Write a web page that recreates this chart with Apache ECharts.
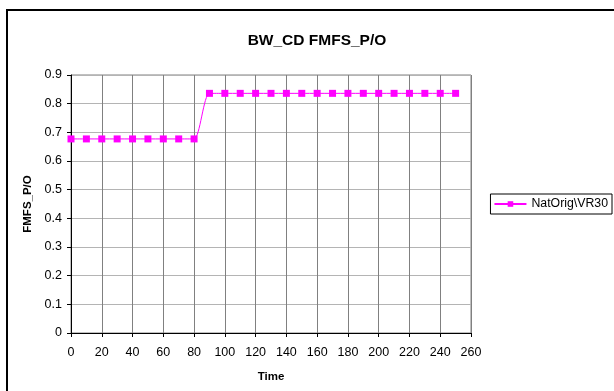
<!DOCTYPE html>
<html><head><meta charset="utf-8">
<script src="https://cdn.jsdelivr.net/npm/echarts@6/dist/echarts.min.js"></script>
<style>html,body{margin:0;padding:0;background:#fff}#c{width:614px;height:391px}</style>
</head><body><div id="c"></div>
<script>
const times = [0,10,20,30,40,50,60,70,80,90,100,110,120,130,140,150,160,170,180,190,200,210,220,230,240,250];
const values = [0.677,0.677,0.677,0.677,0.677,0.677,0.677,0.677,0.677,0.836,0.836,0.836,0.836,0.836,0.836,0.836,0.836,0.836,0.836,0.836,0.836,0.836,0.836,0.836,0.836,0.836];
const seriesName = 'NatOrig\\VR30';
const titleText = 'BW_CD FMFS_P/O';

const chart = echarts.init(document.getElementById('c'), null, {renderer:'canvas'});
const font = 'Liberation Sans, Arial, sans-serif';
chart.setOption({
  animation:false,
  backgroundColor:'#fff',
  title:{text:titleText,left:312,top:28,textAlign:'center',textStyle:{fontFamily:font,fontSize:15.5,fontWeight:'bold',color:'#000'}},
  grid:{left:71,right:143,top:75,bottom:58,show:true,borderColor:'#808080',borderWidth:1},
  legend:{data:[seriesName],right:2,top:194,orient:'vertical',borderColor:'#000',borderWidth:1,padding:[4,4,4,3],itemWidth:32,itemHeight:7,itemGap:0,
    textStyle:{fontFamily:font,fontSize:12.3,color:'#000'}},
  graphic:[{type:'rect',shape:{x:7,y:10,width:640,height:420},style:{fill:'none',stroke:'#000',lineWidth:2},silent:true,z:-1}],
  xAxis:{type:'value',min:0,max:260,interval:20,name:'Time',nameLocation:'middle',nameGap:38,
    nameTextStyle:{fontFamily:font,fontSize:11.5,fontWeight:'bold',color:'#000'},
    axisLine:{lineStyle:{color:'#000',width:1}},axisTick:{show:true,inside:false,length:4,lineStyle:{color:'#000'}},
    axisLabel:{fontFamily:font,fontSize:12.5,color:'#000',margin:13},
    splitLine:{show:true,lineStyle:{color:'#808080',width:1}}},
  yAxis:{type:'value',min:0,max:0.9,interval:0.1,name:'FMFS_P/O',nameLocation:'middle',nameGap:35,
    nameTextStyle:{fontFamily:font,fontSize:11.5,fontWeight:'bold',color:'#000'},
    axisLine:{show:true,lineStyle:{color:'#000',width:1}},axisTick:{show:true,inside:false,length:4,lineStyle:{color:'#000'}},
    axisLabel:{fontFamily:font,fontSize:12.5,color:'#000',margin:9,formatter:v=>v===0?'0':v.toFixed(1)},
    splitLine:{show:true,lineStyle:{color:'#b4b4b4',width:1}}},
  series:[{name:seriesName,type:'line',data:times.map((t,i)=>[t,values[i]]),smooth:0.25,
    symbol:'rect',symbolSize:7,showSymbol:true,
    lineStyle:{color:'#ff00ff',width:1},itemStyle:{color:'#ff00ff',borderWidth:0}}]
});
</script></body></html>
